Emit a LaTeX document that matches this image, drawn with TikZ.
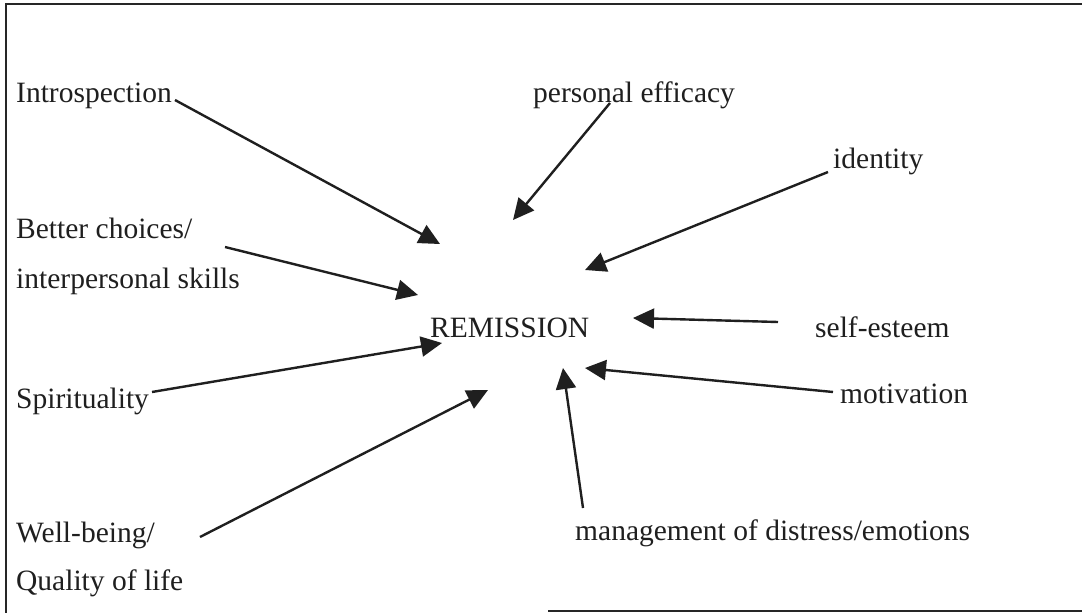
\documentclass[tikz,border=0pt]{standalone}
\usepackage{fontspec}
\setmainfont{Liberation Serif}
\usetikzlibrary{arrows.meta}
\begin{document}
\begin{tikzpicture}[x=1pt,y=-1pt,
  lbl/.style={anchor=base west,inner sep=0pt,font=\fontsize{29.5}{35}\selectfont,text=black!88},
  arr/.style={line width=2.4pt,draw=black!88,-{Triangle[length=21pt,width=20pt]}},
  frame/.style={line width=2pt,draw=black!85}]
\useasboundingbox (0,0) rectangle (1082,613);
\fill[white] (0,0) rectangle (1082,613);
% frame
\draw[frame] (6,613) -- (6,4) -- (1082,4);
\draw[frame] (548,611) -- (1082,611);
% labels
\node[lbl] (intro) at (16,102) {Introspection};
\node[lbl] (eff) at (533,102) {personal efficacy};
\node[lbl] (ident) at (833,168) {identity};
\node[lbl] (better) at (16,238) {Better choices/};
\node[lbl] (inter) at (16,288) {interpersonal skills};
\node[lbl] (rem) at (430,337) {REMISSION};
\node[lbl] (self) at (815,337) {self-esteem};
\node[lbl] (spir) at (16,408) {Spirituality};
\node[lbl] (mot) at (840,403) {motivation};
\node[lbl] (well) at (16,542) {Well-being/};
\node[lbl] (qual) at (16,590) {Quality of life};
\node[lbl] (mgmt) at (575,540) {management of distress/emotions};
% arrow ends
\coordinate (s1) at (175,100); \coordinate (t1) at (440,244);
\coordinate (s2) at (610,103); \coordinate (t2) at (513,220);
\coordinate (s3) at (828,172); \coordinate (t3) at (585,270);
\coordinate (s4) at (225,247); \coordinate (t4) at (418,295);
\coordinate (s5) at (778,322); \coordinate (t5) at (633,318);
\coordinate (s6) at (152,392); \coordinate (t6) at (442,343);
\coordinate (s7) at (833,392); \coordinate (t7) at (585,368);
\coordinate (s8) at (583,508); \coordinate (t8) at (563,368);
\coordinate (s9) at (200,537); \coordinate (t9) at (488,390);
\foreach \i in {1,...,9} {\draw[arr] (s\i) -- (t\i);}
\end{tikzpicture}
\end{document}
